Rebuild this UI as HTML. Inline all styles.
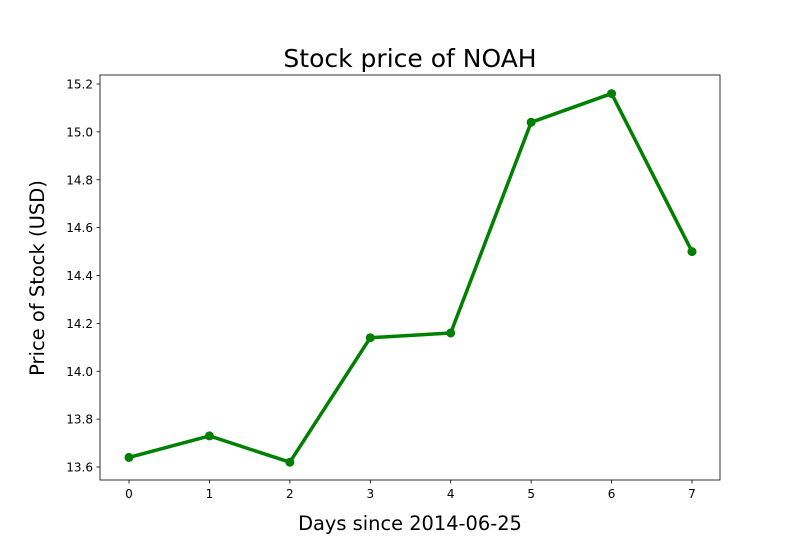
<!DOCTYPE html>
<html><head><meta charset="utf-8"><style>
body{margin:0;background:#fff}
svg{display:block;font-family:"DejaVu Sans","Liberation Sans",sans-serif}
</style></head><body>
<svg id="chart" width="800" height="550">
<rect width="800" height="550" fill="#fff"/>
<text x="410" y="67" font-size="25" text-anchor="middle">Stock price of NOAH</text>
<text x="410" y="530" font-size="19.4" text-anchor="middle">Days since 2014-06-25</text>
<text transform="translate(44,278) rotate(-90)" font-size="19.5" text-anchor="middle">Price of Stock (USD)</text>
<g id="axes"></g>
<g id="marks"></g>
<rect x="100" y="75" width="620" height="405" fill="none" stroke="#000" stroke-width="0.8"/>
</svg>
<script>
const days = [0,1,2,3,4,5,6,7];
const prices = [13.64,13.73,13.62,14.14,14.16,15.04,15.16,14.50];
const xTicks = [0,1,2,3,4,5,6,7];
const yTicks = [13.6,13.8,14.0,14.2,14.4,14.6,14.8,15.0,15.2];
const ns="http://www.w3.org/2000/svg";
function x(v){return 129+(v-0)*(692-129)/7;}
function y(v){return 467-(v-13.6)*(467-84)/1.6;}
const axes=document.getElementById('axes'), marks=document.getElementById('marks');
function mk(t,a,p){const e=document.createElementNS(ns,t);for(const k in a)e.setAttribute(k,a[k]);p.appendChild(e);return e;}
xTicks.forEach(v=>{
  const l=mk('line',{x1:x(v),x2:x(v),y1:480,y2:483.5,stroke:'#000','stroke-width':0.8},axes);
  
  
  const t=mk('text',{x:x(v),y:498,'font-size':12,'text-anchor':'middle'},axes);
  t.textContent=v;
  
  
});
yTicks.forEach(v=>{
  const l=mk('line',{x1:96.5,x2:100,y1:y(v),y2:y(v),stroke:'#000','stroke-width':0.8},axes);
  
  
  const t=mk('text',{x:93,y:y(v)+4.5,'font-size':12,'text-anchor':'end'},axes);
  t.textContent=v.toFixed(1);
  
  
});
const pts=days.map((d,i)=>x(d)+','+y(prices[i])).join(' ');
const line=mk('polyline',{points:pts,fill:'none',stroke:'#008000','stroke-width':3.5,'stroke-linejoin':'round'},marks);


days.forEach((d,i)=>{
  const c=mk('circle',{cx:x(d),cy:y(prices[i]),r:4.5,fill:'#008000'},marks);
  
  
});
</script>
</body></html>
